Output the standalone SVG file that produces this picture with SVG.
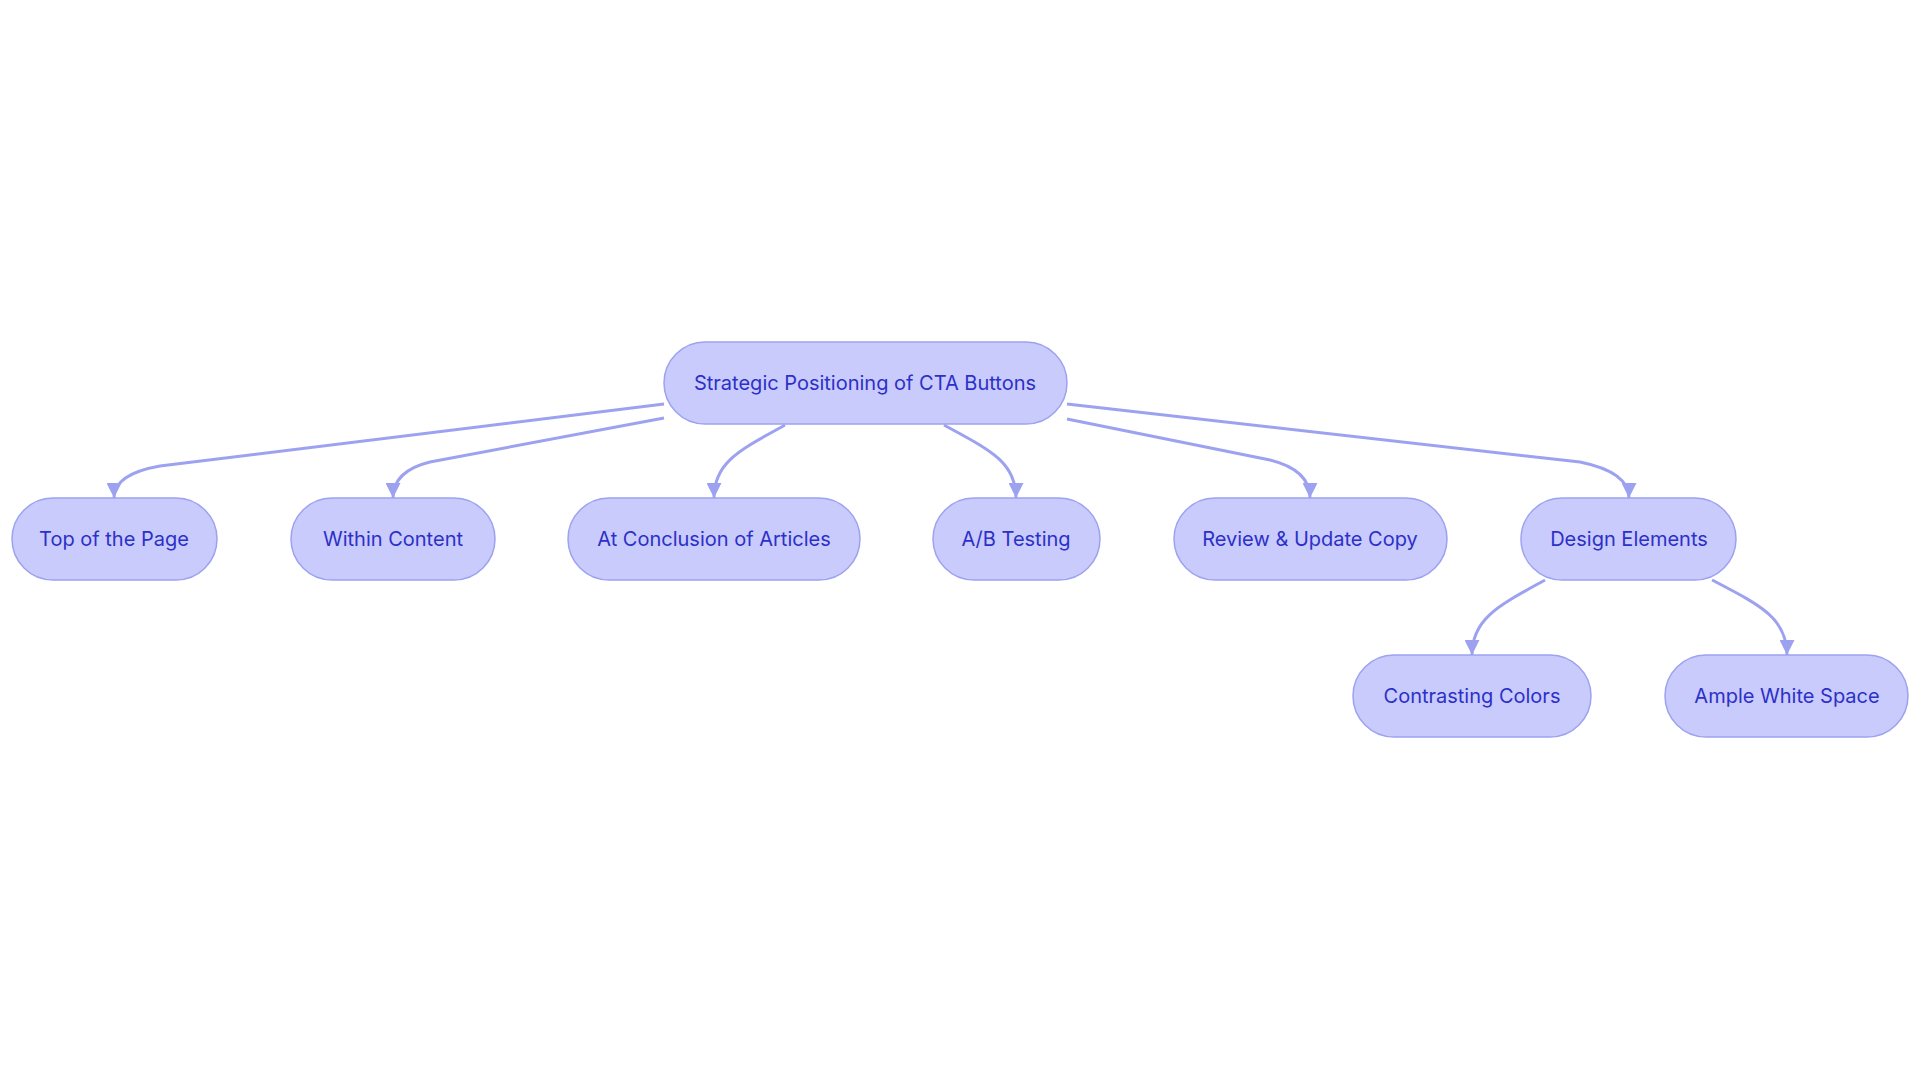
<svg xmlns="http://www.w3.org/2000/svg" width="1920" height="1083" viewBox="0 0 1920 1083">
<defs>
<style>
.n rect{fill:#c8cbfb;stroke:#9da2f0;stroke-width:1.5}
.n text{font-family:Inter,"Noto Sans",sans-serif;font-size:20px;fill:#2d30c8;text-anchor:middle;dominant-baseline:central}
.e path{fill:none;stroke:#9da2f0;stroke-width:3;marker-end:url(#a)}
</style>
<marker id="a" viewBox="0 0 10 10" refX="10" refY="5" markerWidth="5" markerHeight="5" markerUnits="strokeWidth" orient="auto"><path d="M0,0L10,5L0,10z" fill="#9da2f0"/></marker>
</defs>
<rect width="1920" height="1083" fill="#fff"/>
<g class="e">
<path d="M664,404 L160,466 Q114,474 114,498"/>
<path d="M664,418 L430,462 Q393,471 393,498"/>
<path d="M785,425 C740,450 714,462 714,498"/>
<path d="M944,425 C990,450 1016,462 1016,498"/>
<path d="M1067,419 L1270,460 Q1310,470 1310,498"/>
<path d="M1067,404 L1580,462 Q1629,472 1629,498"/>
<path d="M1545,580 C1500,605 1472,618 1472,655"/>
<path d="M1712,580 C1760,605 1787,618 1787,655"/>
</g>
<g id="root" class="n"><rect x="664" y="342" width="403" height="82" rx="41"/><text x="865" y="383">Strategic Positioning of CTA Buttons</text></g>
<g id="top" class="n"><rect x="12" y="498" width="205" height="82" rx="41"/><text x="114" y="539">Top of the Page</text></g>
<g id="within" class="n"><rect x="291" y="498" width="204" height="82" rx="41"/><text x="393" y="539">Within Content</text></g>
<g id="conclusion" class="n"><rect x="568" y="498" width="292" height="82" rx="41"/><text x="714" y="539">At Conclusion of Articles</text></g>
<g id="ab" class="n"><rect x="933" y="498" width="167" height="82" rx="41"/><text x="1016" y="539">A/B Testing</text></g>
<g id="review" class="n"><rect x="1174" y="498" width="273" height="82" rx="41"/><text x="1310" y="539">Review &amp; Update Copy</text></g>
<g id="design" class="n"><rect x="1521" y="498" width="215" height="82" rx="41"/><text x="1629" y="539">Design Elements</text></g>
<g id="contrast" class="n"><rect x="1353" y="655" width="238" height="82" rx="41"/><text x="1472" y="696">Contrasting Colors</text></g>
<g id="ample" class="n"><rect x="1665" y="655" width="243" height="82" rx="41"/><text x="1787" y="696">Ample White Space</text></g>
</svg>
